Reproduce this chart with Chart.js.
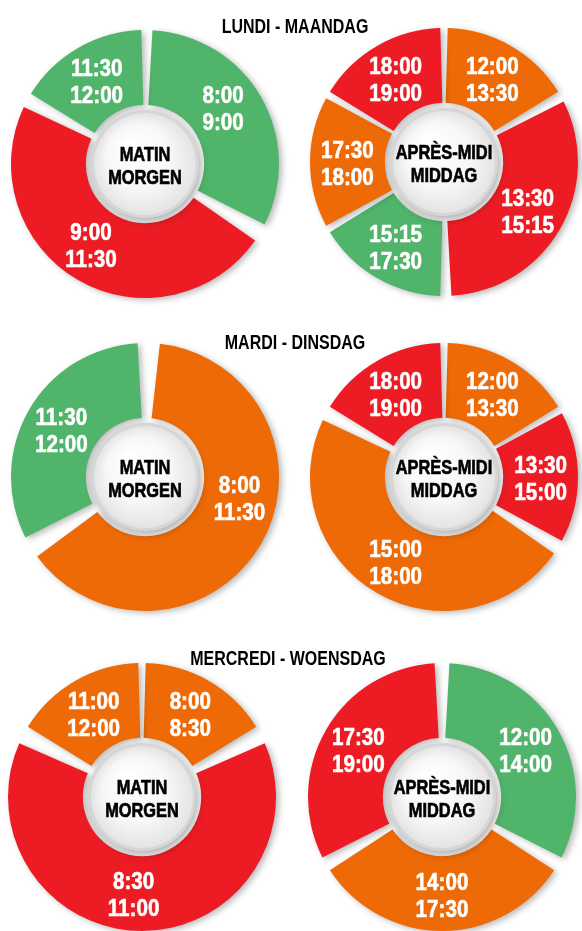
<!DOCTYPE html>
<html>
<head>
<meta charset="utf-8">
<script src="https://cdn.jsdelivr.net/npm/chart.js@4.4.1/dist/chart.umd.min.js"></script>
<style>
  body { margin: 0; background: #fff; }
  #wrap { position: relative; width: 582px; height: 931px; overflow: hidden; }
  #wrap canvas { position: absolute; }
  .title {
    position: absolute; width: 300px; text-align: center; white-space: nowrap;
    font: bold 20px "Liberation Sans", Arial, sans-serif;
    color: #000; line-height: 20px; z-index: 5;
    transform: scaleX(0.8);
  }
</style>
</head>
<body>
<div id="wrap">
  <div class="title" style="left:145px;top:16px">LUNDI - MAANDAG</div>
  <div class="title" style="left:145px;top:332px">MARDI - DINSDAG</div>
  <div class="title" style="left:138px;top:648px">MERCREDI - WOENSDAG</div>
  <canvas id="monAm" width="300" height="300"></canvas>
  <canvas id="monPm" width="300" height="300"></canvas>
  <canvas id="tueAm" width="300" height="300"></canvas>
  <canvas id="tuePm" width="300" height="300"></canvas>
  <canvas id="wedAm" width="300" height="300"></canvas>
  <canvas id="wedPm" width="300" height="300"></canvas>
</div>
<script>
const GREEN = "#51b46b", RED = "#ed1c24", ORANGE = "#ee6a06";
const FONT = '"Liberation Sans", Arial, sans-serif';

// slice sizes are the angles (degrees), clockwise from 12 o'clock

// lundi matin
const monAmFrom = ["8:00", "9:00", "11:30"];
const monAmTo = ["9:00", "11:30", "12:00"];
const monAmSize = [120, 180, 60];
const monAmColor = [GREEN, RED, GREEN];

// lundi après-midi
const monPmFrom = ["12:00", "13:30", "15:15", "17:30", "18:00"];
const monPmTo = ["13:30", "15:15", "17:30", "18:00", "19:00"];
const monPmSize = [60, 120, 60, 60, 60];
const monPmColor = [ORANGE, RED, GREEN, ORANGE, RED];

// mardi matin
const tueAmFrom = ["8:00", "11:30"];
const tueAmTo = ["11:30", "12:00"];
const tueAmSize = [240, 120];
const tueAmColor = [ORANGE, GREEN];

// mardi après-midi
const tuePmFrom = ["12:00", "13:30", "15:00", "18:00"];
const tuePmTo = ["13:30", "15:00", "18:00", "19:00"];
const tuePmSize = [60, 60, 180, 60];
const tuePmColor = [ORANGE, RED, ORANGE, RED];

// mercredi matin
const wedAmFrom = ["8:00", "8:30", "11:00"];
const wedAmTo = ["8:30", "11:00", "12:00"];
const wedAmSize = [60, 240, 60];
const wedAmColor = [ORANGE, RED, ORANGE];

// mercredi après-midi
const wedPmFrom = ["12:00", "14:00", "17:30"];
const wedPmTo = ["14:00", "17:30", "19:00"];
const wedPmSize = [120, 120, 120];
const wedPmColor = [GREEN, ORANGE, RED];

const MORNING = ["MATIN", "MORGEN"];
const AFTERNOON = ["APRÈS-MIDI", "MIDDAG"];

// condensed heavy text: squeeze horizontally, thicken with a thin stroke
function narrowText(ctx, text, x, y, sx) {
  ctx.save();
  ctx.translate(x, y);
  ctx.scale(sx, 1);
  ctx.strokeText(text, 0, 0);
  ctx.fillText(text, 0, 0);
  ctx.restore();
}

// shadow under the slices, white disc in the middle, white times on the slices
const decor = {
  id: "decor",
  beforeDatasetsDraw(chart) {
    const ctx = chart.ctx;
    ctx.save();
    ctx.shadowColor = "rgba(0,0,0,0.28)";
    ctx.shadowBlur = 6;
    ctx.shadowOffsetX = 3;
    ctx.shadowOffsetY = 2;
  },
  afterDatasetsDraw(chart, args, opts) {
    const ctx = chart.ctx;
    ctx.restore();
    const meta = chart.getDatasetMeta(0);
    const cx = meta.data[0].x, cy = meta.data[0].y;

    // centre disc
    const r = 54;
    ctx.save();
    ctx.shadowColor = "rgba(0,0,0,0.35)";
    ctx.shadowBlur = 8;
    ctx.shadowOffsetX = 2;
    ctx.shadowOffsetY = 3;
    ctx.beginPath();
    ctx.arc(cx, cy, r, 0, Math.PI * 2);
    ctx.fillStyle = "#d6d6d6";
    ctx.fill();
    ctx.restore();
    const g = ctx.createRadialGradient(cx - 15, cy - 18, 5, cx, cy, r - 3);
    g.addColorStop(0, "#ffffff");
    g.addColorStop(0.6, "#f7f7f7");
    g.addColorStop(1, "#e4e4e4");
    ctx.beginPath();
    ctx.arc(cx, cy, r - 3, 0, Math.PI * 2);
    ctx.fillStyle = g;
    ctx.fill();

    ctx.save();
    ctx.fillStyle = "#000";
    ctx.strokeStyle = "#000";
    ctx.lineWidth = 0.7;
    ctx.font = "bold 21px " + FONT;
    ctx.textAlign = "center";
    ctx.textBaseline = "alphabetic";
    narrowText(ctx, opts.center[0], cx, cy - 3, 0.78);
    narrowText(ctx, opts.center[1], cx, cy + 20, 0.78);
    ctx.restore();

    // times
    ctx.save();
    ctx.fillStyle = "#fff";
    ctx.strokeStyle = "#fff";
    ctx.lineWidth = 0.6;
    ctx.font = "bold 24px " + FONT;
    ctx.textAlign = "center";
    ctx.textBaseline = "alphabetic";
    const labels = chart.data.labels;
    meta.data.forEach((arc, i) => {
      const p = arc.getProps(["x", "y", "startAngle", "endAngle", "innerRadius", "outerRadius"], true);
      const turn = ((opts.turn && opts.turn[i]) || 0) * Math.PI / 180;
      const a = (p.startAngle + p.endAngle) / 2 + turn;
      const rr = (p.innerRadius + p.outerRadius) / 2 + 5;
      const x = p.x + Math.cos(a) * rr, y = p.y + Math.sin(a) * rr;
      narrowText(ctx, labels[i][0], x, y - 4, 0.86);
      narrowText(ctx, labels[i][1], x, y + 23, 0.86);
    });
    ctx.restore();
  }
};

function ring(id, cx, cy, from, to, size, color, center, turn) {
  const el = document.getElementById(id);
  el.style.left = (cx - 150) + "px";
  el.style.top = (cy - 150) + "px";
  return new Chart(el, {
    type: "doughnut",
    data: {
      labels: from.map((f, i) => [f, to[i]]),
      datasets: [{
        data: size,
        backgroundColor: color,
        borderWidth: 0
      }]
    },
    options: {
      responsive: false,
      animation: false,
      events: [],
      radius: 129,
      cutout: "42%",
      spacing: 10,
      plugins: {
        legend: { display: false },
        tooltip: { enabled: false },
        decor: { center: center, turn: turn }
      }
    },
    plugins: [decor]
  });
}

ring("monAm", 145, 164, monAmFrom, monAmTo, monAmSize, monAmColor, MORNING, [-6, 4, 0]);
ring("monPm", 444, 162, monPmFrom, monPmTo, monPmSize, monPmColor, AFTERNOON);
ring("tueAm", 145, 477, tueAmFrom, tueAmTo, tueAmSize, tueAmColor, MORNING, [-18, 0]);
ring("tuePm", 444, 477, tuePmFrom, tuePmTo, tuePmSize, tuePmColor, AFTERNOON);
ring("wedAm", 142, 797, wedAmFrom, wedAmTo, wedAmSize, wedAmColor, MORNING, [0, 5, 0]);
ring("wedPm", 442, 797, wedPmFrom, wedPmTo, wedPmSize, wedPmColor, AFTERNOON);
</script>
</body>
</html>
